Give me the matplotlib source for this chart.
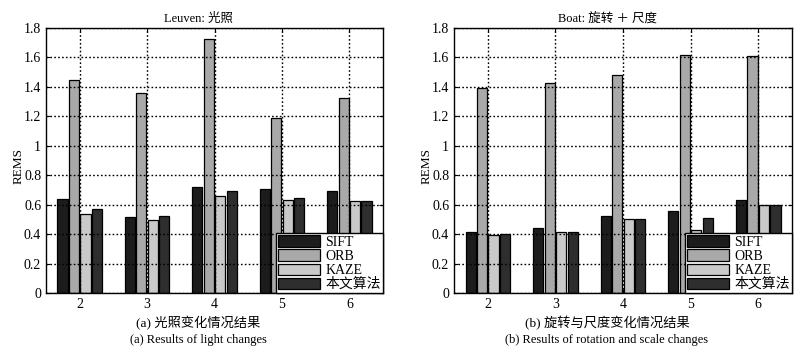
import matplotlib
matplotlib.use("Agg")
import matplotlib.pyplot as plt
import numpy as np

groups = [2, 3, 4, 5, 6]
methods = ["SIFT", "ORB", "KAZE", "本文算法"]
colors = ["#1c1c1c", "#a9a9a9", "#c9c9c9", "#2e2e2e"]

leuven_sift = [0.636, 0.516, 0.723, 0.704, 0.690]
leuven_orb = [1.450, 1.359, 1.725, 1.186, 1.327]
leuven_kaze = [0.536, 0.493, 0.659, 0.634, 0.625]
leuven_ours = [0.573, 0.520, 0.693, 0.648, 0.625]

boat_sift = [0.413, 0.444, 0.524, 0.557, 0.630]
boat_orb = [1.390, 1.424, 1.482, 1.614, 1.607]
boat_kaze = [0.395, 0.413, 0.501, 0.426, 0.596]
boat_ours = [0.404, 0.417, 0.501, 0.512, 0.598]

yticks = [0, 0.2, 0.4, 0.6, 0.8, 1, 1.2, 1.4, 1.6, 1.8]
ytick_labels = ["0", "0.2", "0.4", "0.6", "0.8", "1", "1.2", "1.4", "1.6", "1.8"]

titles = ["Leuven: 光照", "Boat: 旋转 ＋ 尺度"]
captions_cn = ["(a) 光照变化情况结果", "(b) 旋转与尺度变化情况结果"]
captions_en = ["(a) Results of light changes", "(b) Results of rotation and scale changes"]

fam = ["Liberation Serif", "Noto Sans CJK SC"]
plt.rcParams["font.family"] = fam

fig = plt.figure(figsize=(8.09, 3.52), dpi=100)
axes_pos = [[0.0569, 0.1676, 0.4166, 0.7528], [0.5612, 0.1676, 0.4178, 0.7528]]
text_cx = [198 / 809, 607 / 809]
datasets = [[leuven_sift, leuven_orb, leuven_kaze, leuven_ours],
            [boat_sift, boat_orb, boat_kaze, boat_ours]]

x = np.array(groups, dtype=float)
slot = 0.17
bw = 0.15
for i in range(2):
    ax = fig.add_axes(axes_pos[i])
    for j, (vals, c) in enumerate(zip(datasets[i], colors)):
        off = (j - 1.5) * slot
        ax.bar(x + off, vals, width=bw, color=c, edgecolor="black",
               linewidth=0.9, label=methods[j], zorder=2)
    ax.set_xlim(1.5, 6.5)
    ax.set_ylim(0, 1.8)
    ax.set_xticks(groups)
    ax.set_xticklabels([str(g) for g in groups])
    ax.set_yticks(yticks)
    ax.set_yticklabels(ytick_labels)
    ax.tick_params(direction="in", labelsize=10, length=3, top=True, right=True,
                   width=0.8)
    ax.grid(True, linestyle=(0, (1.2, 1.6)), color="black", linewidth=1.0, zorder=3)
    ax.set_axisbelow(False)
    for s in ax.spines.values():
        s.set_linewidth(1.0)
        s.set_zorder(4)
    ax.set_ylabel("REMS", fontsize=9.5)
    ax.yaxis.set_label_coords(-21 / 337, 0.48)
    ax.set_title(titles[i], fontsize=9, pad=4,
                 x=(text_cx[i] - axes_pos[i][0]) / axes_pos[i][2])
    leg = ax.legend(loc="lower right", fontsize=10, frameon=True, fancybox=False,
                    borderaxespad=0.0, handlelength=3.0, handleheight=0.85,
                    handletextpad=0.4, labelspacing=0.05, borderpad=0.15,
                    edgecolor="black", framealpha=1)
    leg.get_frame().set_linewidth(1.0)
    leg.set_zorder(5)
    fig.text(text_cx[i], 0.083, captions_cn[i], ha="center", va="center", fontsize=9.5)
    fig.text(text_cx[i], 0.035, captions_en[i], ha="center", va="center", fontsize=9)

fig.savefig("out.png", dpi=100)
